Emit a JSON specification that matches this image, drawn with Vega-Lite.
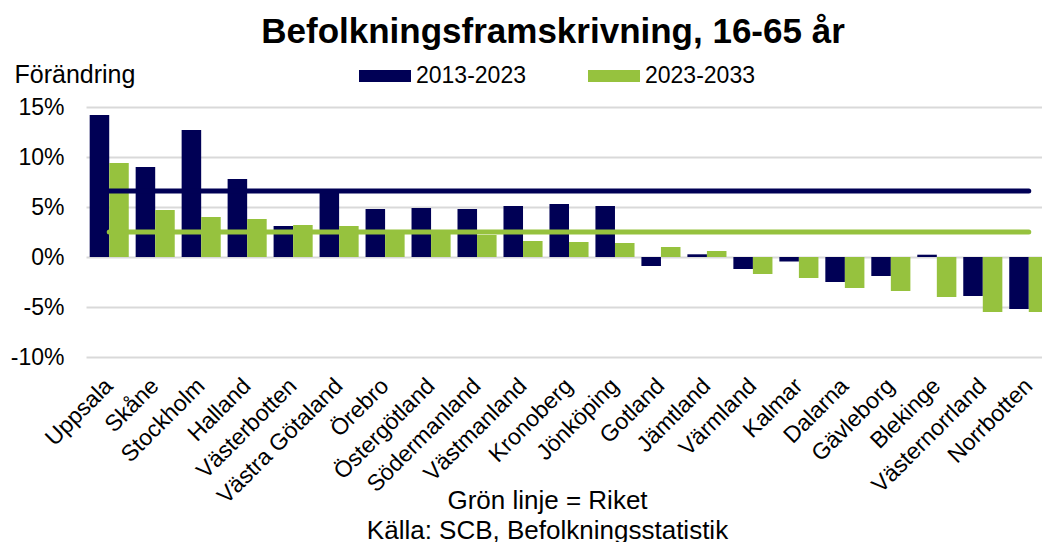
{
  "$schema": "https://vega.github.io/schema/vega-lite/v6.json",
  "autosize": {"type": "none"},
  "padding": {"left": 86, "top": 107, "right": 0, "bottom": 185},
  "width": 956,
  "height": 250,
  "background": "white",
  "title": {
    "text": "Befolkningsframskrivning, 16-65 år",
    "font": "Liberation Sans",
    "fontSize": 35,
    "fontWeight": "bold",
    "color": "black",
    "anchor": "middle",
    "dx": -11,
    "dy": 4
  },
  "datasets": {
    "bars": [
      {"region": "Uppsala", "period": "2013-2023", "value": 14.2},
      {"region": "Uppsala", "period": "2023-2033", "value": 9.4},
      {"region": "Skåne", "period": "2013-2023", "value": 9.0},
      {"region": "Skåne", "period": "2023-2033", "value": 4.7},
      {"region": "Stockholm", "period": "2013-2023", "value": 12.7},
      {"region": "Stockholm", "period": "2023-2033", "value": 4.0},
      {"region": "Halland", "period": "2013-2023", "value": 7.8},
      {"region": "Halland", "period": "2023-2033", "value": 3.8},
      {"region": "Västerbotten", "period": "2013-2023", "value": 3.1},
      {"region": "Västerbotten", "period": "2023-2033", "value": 3.2},
      {"region": "Västra Götaland", "period": "2013-2023", "value": 6.8},
      {"region": "Västra Götaland", "period": "2023-2033", "value": 3.1},
      {"region": "Örebro", "period": "2013-2023", "value": 4.8},
      {"region": "Örebro", "period": "2023-2033", "value": 2.7},
      {"region": "Östergötland", "period": "2013-2023", "value": 4.9},
      {"region": "Östergötland", "period": "2023-2033", "value": 2.6},
      {"region": "Södermanland", "period": "2013-2023", "value": 4.8},
      {"region": "Södermanland", "period": "2023-2033", "value": 2.2},
      {"region": "Västmanland", "period": "2013-2023", "value": 5.1},
      {"region": "Västmanland", "period": "2023-2033", "value": 1.6},
      {"region": "Kronoberg", "period": "2013-2023", "value": 5.3},
      {"region": "Kronoberg", "period": "2023-2033", "value": 1.5},
      {"region": "Jönköping", "period": "2013-2023", "value": 5.1},
      {"region": "Jönköping", "period": "2023-2033", "value": 1.4},
      {"region": "Gotland", "period": "2013-2023", "value": -0.9},
      {"region": "Gotland", "period": "2023-2033", "value": 1.0},
      {"region": "Jämtland", "period": "2013-2023", "value": 0.27},
      {"region": "Jämtland", "period": "2023-2033", "value": 0.6},
      {"region": "Värmland", "period": "2013-2023", "value": -1.2},
      {"region": "Värmland", "period": "2023-2033", "value": -1.7},
      {"region": "Kalmar", "period": "2013-2023", "value": -0.45},
      {"region": "Kalmar", "period": "2023-2033", "value": -2.1},
      {"region": "Dalarna", "period": "2013-2023", "value": -2.5},
      {"region": "Dalarna", "period": "2023-2033", "value": -3.1},
      {"region": "Gävleborg", "period": "2013-2023", "value": -1.9},
      {"region": "Gävleborg", "period": "2023-2033", "value": -3.4},
      {"region": "Blekinge", "period": "2013-2023", "value": 0.23},
      {"region": "Blekinge", "period": "2023-2033", "value": -4.0},
      {"region": "Västernorrland", "period": "2013-2023", "value": -3.9},
      {"region": "Västernorrland", "period": "2023-2033", "value": -5.5},
      {"region": "Norrbotten", "period": "2013-2023", "value": -5.2},
      {"region": "Norrbotten", "period": "2023-2033", "value": -5.5}
    ],
    "riket": [
      {"region": "Uppsala", "period": "2013-2023", "value": 6.6},
      {"region": "Norrbotten", "period": "2013-2023", "value": 6.6},
      {"region": "Uppsala", "period": "2023-2033", "value": 2.5},
      {"region": "Norrbotten", "period": "2023-2033", "value": 2.5}
    ]
  },
  "encoding": {
    "x": {
      "field": "region",
      "type": "nominal",
      "sort": ["Uppsala", "Skåne", "Stockholm", "Halland", "Västerbotten", "Västra Götaland", "Örebro", "Östergötland", "Södermanland", "Västmanland", "Kronoberg", "Jönköping", "Gotland", "Jämtland", "Värmland", "Kalmar", "Dalarna", "Gävleborg", "Blekinge", "Västernorrland", "Norrbotten"],
      "scale": {"range": [0, 966], "paddingInner": 0.15, "paddingOuter": 0.08},
      "axis": {
        "labelAngle": -45,
        "labelAlign": "right",
        "labelBaseline": "middle",
        "labelFont": "Liberation Sans",
        "labelFontSize": 23,
        "labelColor": "black",
        "labelPadding": 25,
        "labelOverlap": false,
        "labelLimit": 0,
        "ticks": false,
        "domain": false,
        "grid": false,
        "title": ["Grön linje = Riket", "Källa: SCB, Befolkningsstatistik"],
        "titleFont": "Liberation Sans",
        "titleFontSize": 26,
        "titleFontWeight": "normal",
        "titleColor": "black",
        "titleAlign": "center",
        "titleBaseline": "alphabetic",
        "titleAnchor": null,
        "titleLineHeight": 30,
        "titleX": 461,
        "titleY": 151
      }
    },
    "y": {
      "field": "value",
      "type": "quantitative",
      "scale": {"domain": [-10, 15], "nice": false, "zero": false},
      "axis": {
        "values": [-10, -5, 0, 5, 10, 15],
        "labelExpr": "datum.value + '%'",
        "labelFont": "Liberation Sans",
        "labelFontSize": 23,
        "labelColor": "black",
        "labelPadding": 22,
        "ticks": false,
        "domain": false,
        "grid": true,
        "gridColor": "#D9D9D9",
        "gridWidth": 2,
        "title": "Förändring",
        "titleFont": "Liberation Sans",
        "titleFontSize": 25,
        "titleFontWeight": "normal",
        "titleColor": "black",
        "titleAngle": 0,
        "titleAlign": "left",
        "titleBaseline": "alphabetic",
        "titleX": -72,
        "titleY": -25
      }
    }
  },
  "layer": [
    {
      "data": {"name": "bars"},
      "mark": {"type": "bar"},
      "encoding": {
        "xOffset": {"field": "period", "type": "nominal", "sort": ["2013-2023", "2023-2033"], "scale": {"paddingInner": 0, "paddingOuter": 0}},
        "color": {
          "field": "period",
          "type": "nominal",
          "scale": {"domain": ["2013-2023", "2023-2033"], "range": ["#000055", "#96C23E"]},
          "legend": {
            "orient": "none",
            "legendX": 273,
            "legendY": -57,
            "direction": "horizontal",
            "title": null,
            "symbolType": "M-1,-0.23H1V0.23H-1Z",
            "symbolSize": 2704,
            "symbolStrokeWidth": 0,
            "labelFont": "Liberation Sans",
            "labelFontSize": 23,
            "labelColor": "black",
            "labelOffset": 5,
            "columnPadding": 62
          }
        }
      }
    },
    {
      "data": {"name": "riket"},
      "transform": [{"filter": "datum.period == '2013-2023'"}],
      "mark": {"type": "line", "color": "#000055", "strokeWidth": 5, "strokeCap": "round"},
      "encoding": {}
    },
    {
      "data": {"name": "riket"},
      "transform": [{"filter": "datum.period == '2023-2033'"}],
      "mark": {"type": "line", "color": "#96C23E", "strokeWidth": 5, "strokeCap": "round"},
      "encoding": {}
    }
  ],
  "config": {
    "view": {"stroke": null}
  }
}
